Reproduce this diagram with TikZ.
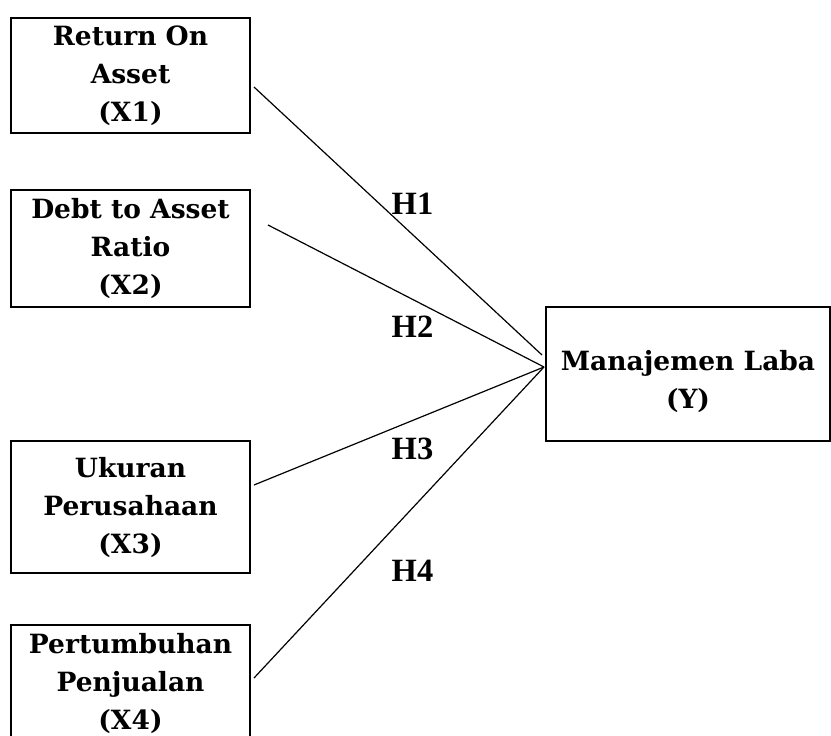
\documentclass[tikz,border=0pt]{standalone}
\usepackage{fontspec}
\setmainfont{DejaVu Serif}
\newfontfamily\hfont{Liberation Serif}
\begin{document}
\begin{tikzpicture}[x=1pt,y=-1pt,
  varbox/.style={draw, line width=2.4pt, align=center, inner sep=0pt,
    minimum width=239pt, font=\bfseries\fontsize{26.5}{38}\selectfont},
  hlabel/.style={inner sep=0pt, font=\hfont\bfseries\fontsize{32.5}{32.5}\selectfont},
  link/.style={line width=1.2pt}]
\useasboundingbox (0,0) rectangle (831,736);
\clip (0,0) rectangle (831,736);
\node[varbox, minimum height=115pt] (x1) at (130.5,75.5) {Return On\\Asset\\(X1)};
\node[varbox, minimum height=117pt] (x2) at (130.5,248.5) {Debt to Asset\\Ratio\\(X2)};
\node[varbox, minimum height=132pt] (x3) at (130.5,507) {Ukuran\\Perusahaan\\(X3)};
\node[varbox, minimum height=116pt] (x4) at (130.5,683) {Pertumbuhan\\Penjualan\\(X4)};
\node[varbox, minimum width=284pt, minimum height=134pt] (y) at (688,374) {\rule{0pt}{36pt}Manajemen Laba\\(Y)};
\coordinate (s1) at (254,87);
\coordinate (s2) at (268,225);
\coordinate (s3) at (254,485);
\coordinate (s4) at (254,678);
\coordinate (e1) at (542,355);
\coordinate (e0) at (544,367);
\draw[link] (s1) -- (e1);
\draw[link] (s2) -- (e0);
\draw[link] (s3) -- (e0);
\draw[link] (s4) -- (e0);
\node[hlabel] (h1) at (412.5,204) {H1};
\node[hlabel] (h2) at (412.5,327) {H2};
\node[hlabel] (h3) at (412.5,449) {H3};
\node[hlabel] (h4) at (412.5,571) {H4};
\end{tikzpicture}
\end{document}
